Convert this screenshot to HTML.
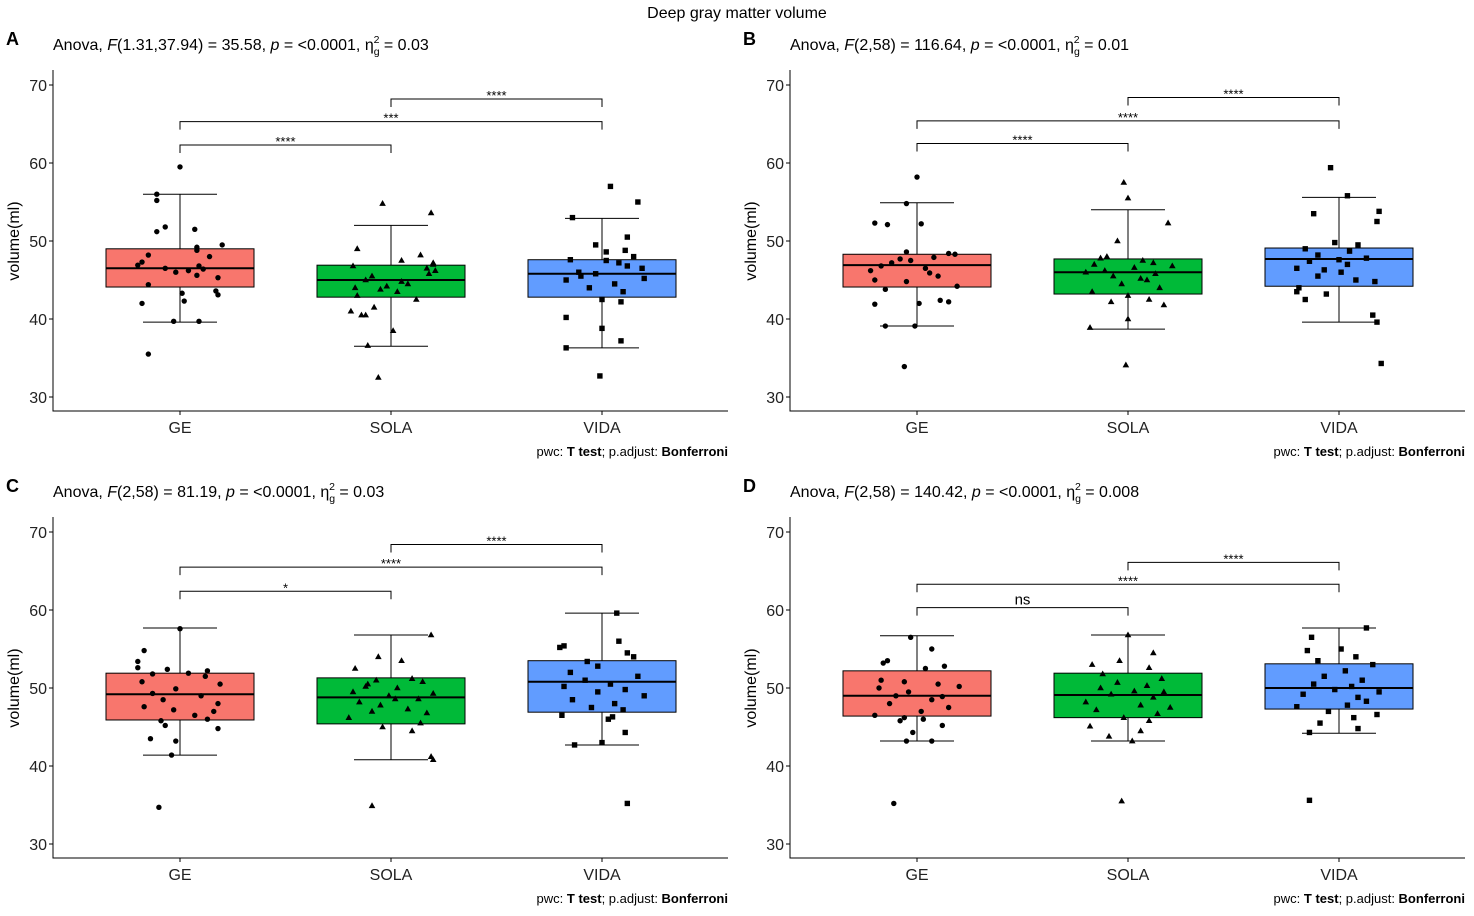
<!DOCTYPE html>
<html><head><meta charset="utf-8"><style>
body{margin:0;background:#fff;}
svg{display:block;font-family:"Liberation Sans",Arial,sans-serif;}
</style></head><body>
<svg id="fig" width="1474" height="916">
<text x="737" y="18" text-anchor="middle" font-size="16">Deep gray matter volume</text>
</svg>
<script>
const groups = ["GE","SOLA","VIDA"];
const panelLetters = ["A","B","C","D"];
const yTicks = [30,40,50,60,70];
// box stats [lowWhisker, q1, median, q3, highWhisker] per panel per group
const boxA = [[39.6,44.1,46.5,49.0,56.0],[36.5,42.8,45.0,46.9,52.0],[36.3,42.8,45.8,47.6,52.9]];
const boxB = [[39.1,44.1,46.9,48.3,54.9],[38.7,43.2,46.0,47.7,54.0],[39.6,44.2,47.7,49.1,55.6]];
const boxC = [[41.4,45.9,49.2,51.9,57.7],[40.8,45.4,48.8,51.3,56.8],[42.7,46.9,50.8,53.5,59.6]];
const boxD = [[43.2,46.4,49.0,52.2,56.7],[43.2,46.2,49.1,51.9,56.8],[44.2,47.3,50.0,53.1,57.7]];
// point values per group
const ptsA = [
 [59.5,56,55.2,51.8,51.5,51.2,48.2,47.3,46.9,49.2,48.8,49.5,48,46.2,46,46.5,46.8,46.4,45.3,44.4,43.1,43.6,43.3,42.3,42,39.7,39.7,35.5,45.6],
 [54.8,53.6,49,47.5,47,46.5,46.8,45.5,45,44.8,44.5,44,43.5,43,42.5,41.5,41,40.5,40.5,38.5,36.6,32.5,45.8,46.2,44.2,48.2,47.2,43.8],
 [57,55,53,50.5,49.5,48.6,48,47.6,47.2,46.8,46.5,46,45.8,45.5,45,44.5,44,43.5,42.5,42.2,40.2,38.8,37.2,36.3,32.7,48.8,47.5,45.2]
];
const jitA = [
 [0,-.11,-.11,-.07,.07,-.11,-.15,-.18,-.2,.08,.08,.2,.14,.04,-.02,-.07,.09,.11,.18,-.15,.18,.17,.01,.02,-.18,-.03,.09,-.15,.08],
 [-.04,.19,-.16,.05,.2,.17,-.18,-.09,-.12,.05,.08,-.17,.03,-.16,.12,-.08,-.19,-.14,-.12,.01,-.11,-.06,.18,.21,-.02,.14,.2,-.05],
 [.04,.17,-.14,.12,-.03,.02,.15,-.15,.08,.12,.19,-.11,-.03,-.1,-.17,.06,-.06,.1,.0,.09,-.17,0,.09,-.17,-.01,.11,.02,.2]
];
const ptsB = [
 [58.2,54.8,52.3,52.2,52.1,48.6,48.4,48.3,47.7,47.5,47.2,46.8,46.5,46.2,45.5,45,44.8,44.2,43.8,42.4,42.2,42,41.9,39.1,39.1,33.9,47.9,45.9],
 [57.5,55.5,52.3,50,48,47.8,47.5,47,46.6,46.2,46,45.8,45.5,45,44.5,44,43.5,43,42.5,42.2,41.8,40,38.9,34.1,46.8,45.2,47.2],
 [59.4,55.8,53.8,53.5,52.5,49.8,49.5,49,48.7,48.2,47.8,47.4,47,46.5,46,45.5,45,44.8,44,43.5,43.2,42.5,40.5,39.6,34.3,47.6,46.3]
];
const jitB = [
 [.0,-.05,-.2,.02,-.14,-.05,.15,.18,-.08,-.03,-.12,-.17,.04,-.22,.1,-.2,-.05,.19,-.15,.11,.15,.01,-.2,-.15,-.01,-.06,.08,.06],
 [-.02,.0,.19,-.05,-.1,-.13,.07,-.16,.03,-.11,-.2,.13,-.07,.09,-.03,.15,-.17,.0,.1,-.08,.17,0,-.18,-.01,.21,.06,.12],
 [-.04,.04,.19,-.12,.18,-.02,.09,-.16,.05,-.1,.13,-.14,.04,-.2,.01,-.1,.08,.17,-.19,-.2,-.06,-.16,.16,.18,.2,.0,-.07]
];
const ptsC = [
 [57.6,54.8,53.4,52.4,52.2,51.9,51.8,51.5,50.8,50.5,49.9,49.3,49,48.5,48,47.6,47.2,47,46.5,46,45.8,45.2,44.8,43.5,43.2,41.4,34.7,52.6],
 [56.8,54,53.5,52.5,51.2,51,50.8,50.5,50,49.5,49.3,49,48.6,48.2,47.8,47.3,47,46.8,46.2,45.5,45,44.5,41.2,40.8,34.9,50.2,48.6],
 [59.6,56,55.4,55.2,54.5,54,53.4,52.8,52,51.5,51,50.5,50.2,49.8,49.5,49,48.5,48,47.5,47.2,46.5,46.3,46,44.3,43,42.7,35.2]
];
const jitC = [
 [0,-.17,-.2,-.06,.13,.04,-.13,.12,-.18,.19,-.02,-.13,.1,-.08,.18,-.17,-.03,.16,.07,.13,-.09,-.07,.18,-.14,-.02,-.04,-.1,-.2],
 [.19,-.06,.05,-.17,.1,-.07,.15,-.11,.03,-.18,.2,-.01,.13,-.15,-.05,.08,-.09,.17,-.2,.14,-.04,.1,.19,.2,-.09,-.12,.02],
 [.07,.08,-.18,-.2,.12,.15,-.07,-.02,-.15,.17,-.08,.04,-.18,.11,-.02,.2,-.14,.06,-.05,.1,-.19,.05,.03,.11,0,-.13,.12]
];
const ptsD = [
 [56.5,55,53.5,53.2,52.8,52.5,51,50.8,50.5,50,49.5,49,48.9,48.5,48,47.5,47,46.5,46.2,46,45.8,45.2,44.3,43.2,43.2,35.2,50.2],
 [56.8,54.5,53.5,53,52.6,51.8,51.2,50.7,50.3,50,49.6,49.2,48.8,48.2,47.8,47.2,46.7,46.2,45.8,45.1,44.5,43.8,43.2,35.5,49.5,47.5],
 [57.7,56.5,55,54.8,54,53.5,53,52.2,51.5,51,50.5,50.2,49.8,49.5,49.2,48.8,48.3,47.6,47,46.6,46.2,45.5,44.8,44.3,35.6,47.8]
];
const jitD = [
 [-.03,.07,-.14,-.16,.13,.04,-.17,-.06,.1,-.18,-.04,-.1,.12,.07,-.13,.15,.02,-.2,-.06,.03,-.08,.12,-.02,-.05,.07,-.11,.2],
 [0,.12,-.04,-.17,.1,-.12,.16,-.05,.09,-.13,.03,-.08,.12,-.2,.06,-.15,.14,-.02,.1,-.18,.06,-.09,.02,-.03,.17,.2],
 [.13,-.13,.01,-.15,.08,-.1,.16,.03,-.07,.11,-.12,.06,-.02,.19,-.17,.09,.13,-.2,-.05,.18,.07,-.09,.09,-.14,-.14,.04]
];
const anova = [
 ["1.31,37.94","35.58","0.03"],["2,58","116.64","0.01"],["2,58","81.19","0.03"],["2,58","140.42","0.008"]
];
// brackets: [fromGroup,toGroup,yValue,label]
const brA = [[1,2,68.2,"****"],[0,2,65.3,"***"],[0,1,62.3,"****"]];
const brB = [[1,2,68.4,"****"],[0,2,65.4,"****"],[0,1,62.5,"****"]];
const brC = [[1,2,68.4,"****"],[0,2,65.5,"****"],[0,1,62.4,"*"]];
const brD = [[1,2,66.1,"****"],[0,2,63.3,"****"],[0,1,60.3,"ns"]];

const NS="http://www.w3.org/2000/svg";
const svg=document.getElementById("fig");
const colors=["#F8766D","#00BA38","#619CFF"];
function mk(tag,attrs,parent){const e=document.createElementNS(NS,tag);for(const k in attrs)e.setAttribute(k,attrs[k]);(parent||svg).appendChild(e);return e;}

const panels=[
 {x0:53,top:85,box:boxA,pts:ptsA,jit:jitA,br:brA},
 {x0:790,top:85,box:boxB,pts:ptsB,jit:jitB,br:brB},
 {x0:53,top:532,box:boxC,pts:ptsC,jit:jitC,br:brC},
 {x0:790,top:532,box:boxD,pts:ptsD,jit:jitD,br:brD}
];
panels.forEach((p,pi)=>{
 const g=mk("g",{});
 
 
 const yS=v=>p.top+(70-v)*7.8;
 const xS=(c,j)=>p.x0+127+c*211+(j||0)*211;
 const bottom=p.top+326, right=p.x0+675;
 const L=mk("text",{x:p.x0-47,y:p.top-40,"font-size":18,"font-weight":"bold"},g);L.textContent=panelLetters[pi];
 
 
 const a=anova[pi];
 const st=mk("text",{x:p.x0,y:p.top-35,"font-size":16},g);
 st.innerHTML='Anova, <tspan font-style="italic">F</tspan>('+a[0]+') = '+a[1]+', <tspan font-style="italic">p</tspan> = &lt;0.0001, η<tspan font-size="10.5" dy="5">g</tspan><tspan font-size="10.5" dx="-6" dy="-12">2</tspan><tspan dy="7"> = '+a[2]+'</tspan>';
 
 
 const ax=mk("path",{d:`M${p.x0} ${p.top-15}V${bottom}H${right}`,stroke:"#000",fill:"none","stroke-width":1},g);
 
 
 yTicks.forEach(t=>{
  mk("line",{x1:p.x0-4,x2:p.x0,y1:yS(t),y2:yS(t),stroke:"#000"},g);
  const tt=mk("text",{x:p.x0-6,y:yS(t)+6,"text-anchor":"end","font-size":16,fill:"#222"},g);tt.textContent=t;
  
  
 });
 const yl=mk("text",{transform:`translate(${p.x0-34},${p.top+156}) rotate(-90)`,"text-anchor":"middle","font-size":16},g);yl.textContent="volume(ml)";
 
 
 groups.forEach((gname,c)=>{
  mk("line",{x1:xS(c),x2:xS(c),y1:bottom,y2:bottom+4,stroke:"#000"},g);
  const xt=mk("text",{x:xS(c),y:bottom+22,"text-anchor":"middle","font-size":16,fill:"#222"},g);xt.textContent=gname;
  
  
  const b=p.box[c];const cx=xS(c);
  const bg=mk("g",{},g);
  
  
  mk("line",{x1:cx,x2:cx,y1:yS(b[0]),y2:yS(b[1]),stroke:"#000"},bg);
  mk("line",{x1:cx,x2:cx,y1:yS(b[3]),y2:yS(b[4]),stroke:"#000"},bg);
  mk("line",{x1:cx-37,x2:cx+37,y1:yS(b[0]),y2:yS(b[0]),stroke:"#000"},bg);
  mk("line",{x1:cx-37,x2:cx+37,y1:yS(b[4]),y2:yS(b[4]),stroke:"#000"},bg);
  mk("rect",{x:cx-74,y:yS(b[3]),width:148,height:yS(b[1])-yS(b[3]),fill:colors[c],stroke:"#000"},bg);
  mk("line",{x1:cx-74,x2:cx+74,y1:yS(b[2]),y2:yS(b[2]),stroke:"#000","stroke-width":2},bg);
  p.pts[c].forEach((v,i)=>{
   const px=xS(c,p.jit[c][i]),py=yS(v);let m;
   if(c==0)m=mk("circle",{cx:px,cy:py,r:2.7,fill:"#000"},g);
   else if(c==1)m=mk("path",{d:`M${px} ${py-3.5}L${px+3.3} ${py+2.3}L${px-3.3} ${py+2.3}Z`,fill:"#000"},g);
   else m=mk("rect",{x:px-2.7,y:py-2.7,width:5.4,height:5.4,fill:"#000"},g);
   
   
  });
 });
 p.br.forEach(br=>{
  const x1=xS(br[0]),x2=xS(br[1]),y=yS(br[2]);
  const pth=mk("path",{d:`M${x1} ${y+8}V${y}H${x2}V${y+8}`,stroke:"#000",fill:"none"},g);
  
  
  const lt=mk("text",{x:(x1+x2)/2,y:br[3]=="ns"?y-3:y+1,"text-anchor":"middle","font-size":br[3]=="ns"?15:13},g);lt.textContent=br[3];
  
  
 });
 const cap=mk("text",{x:right,y:bottom+45,"text-anchor":"end","font-size":13},g);
 cap.innerHTML='pwc: <tspan font-weight="bold">T test</tspan>; p.adjust: <tspan font-weight="bold">Bonferroni</tspan>';
 
 
});
</script>
</body></html>
